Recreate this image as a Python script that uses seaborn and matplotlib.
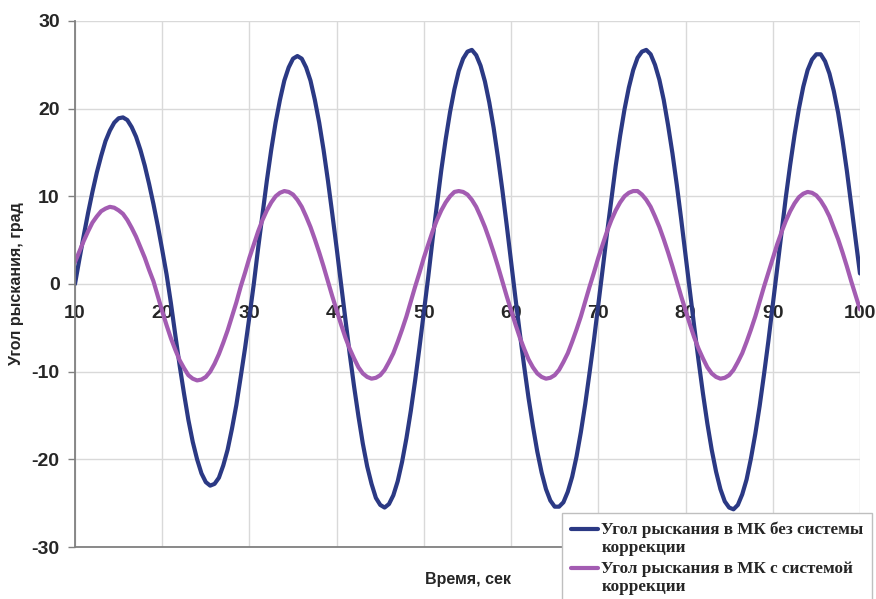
import seaborn as sns
import pandas as pd
import matplotlib.pyplot as plt
from matplotlib.legend_handler import HandlerLine2D

# time axis, seconds (0.5 s step)
time_s = [10 + 0.5 * i for i in range(181)]

# yaw angle without correction, deg
yaw_no_corr = [
    0.0, 2.8, 5.5, 8.1, 10.5, 12.7, 14.6, 16.3, 17.5, 18.4, 18.9, 19.0, 18.7, 17.9,
    16.8, 15.3, 13.5, 11.4, 9.1, 6.6, 3.9, 1.1,
    -2.2, -5.8, -9.3, -12.5, -15.5, -18.0, -20.0, -21.6, -22.6, -23.0,
    -22.8, -22.1, -20.7, -18.9, -16.5, -13.8, -10.6, -7.3, -3.7, 0.0,
    4.1, 8.0, 11.8, 15.3, 18.4, 21.0, 23.2, 24.7, 25.7, 26.0,
    25.7, 24.7, 23.2, 21.0, 18.4, 15.3, 11.8, 8.0, 4.1, 0.0,
    -4.0, -8.0, -11.7, -15.1, -18.2, -20.8, -22.8, -24.4, -25.2, -25.5,
    -25.1, -24.1, -22.5, -20.3, -17.6, -14.5, -11.0, -7.2, -3.2, 0.8,
    5.1, 9.1, 13.0, 16.5, 19.6, 22.2, 24.3, 25.7, 26.5, 26.7,
    26.1, 24.9, 23.1, 20.7, 17.8, 14.4, 10.7, 6.7, 2.5, -1.6,
    -5.6, -9.4, -13.0, -16.2, -19.1, -21.5, -23.4, -24.7, -25.4, -25.4,
    -24.9, -23.7, -22.0, -19.7, -16.9, -13.7, -10.1, -6.4, -2.4, 1.7,
    5.8, 9.7, 13.5, 16.9, 19.9, 22.4, 24.4, 25.8, 26.5, 26.7,
    26.2, 25.0, 23.3, 21.0, 18.1, 14.9, 11.3, 7.4, 3.3, -0.8,
    -4.9, -8.8, -12.5, -15.9, -18.9, -21.4, -23.4, -24.8, -25.5, -25.7,
    -25.2, -24.0, -22.3, -19.9, -17.1, -13.9, -10.3, -6.5, -2.4, 1.7,
    5.9, 9.9, 13.6, 17.0, 20.0, 22.5, 24.4, 25.6, 26.2, 26.2,
    25.4, 24.0, 22.0, 19.5, 16.4, 12.9, 9.0, 5.0, 1.2,
]

# yaw angle with correction system, deg
yaw_corr = [
    2.5, 3.7, 4.9, 6.0, 7.0, 7.7, 8.3, 8.6, 8.8, 8.7,
    8.4, 8.0, 7.3, 6.4, 5.4, 4.2, 3.0, 1.6, 0.3, -1.4,
    -3.1, -4.7, -6.2, -7.5, -8.7, -9.6, -10.4, -10.8, -11.0, -10.9,
    -10.6, -10.0, -9.1, -8.0, -6.7, -5.3, -3.7, -2.1, -0.3, 1.3,
    3.0, 4.5, 6.0, 7.3, 8.4, 9.3, 10.0, 10.4, 10.6, 10.5,
    10.2, 9.6, 8.8, 7.7, 6.5, 5.1, 3.6, 2.0, 0.3, -1.4,
    -3.0, -4.6, -6.1, -7.4, -8.5, -9.5, -10.2, -10.6, -10.8, -10.7,
    -10.4, -9.8, -8.9, -7.9, -6.6, -5.2, -3.7, -2.0, -0.3, 1.3,
    3.0, 4.5, 6.0, 7.3, 8.4, 9.3, 10.0, 10.5, 10.6, 10.5,
    10.2, 9.6, 8.8, 7.7, 6.5, 5.1, 3.6, 2.0, 0.3, -1.4,
    -3.0, -4.6, -6.1, -7.4, -8.6, -9.5, -10.2, -10.6, -10.8, -10.7,
    -10.4, -9.8, -8.9, -7.9, -6.6, -5.2, -3.7, -2.0, -0.3, 1.3,
    3.0, 4.5, 6.0, 7.3, 8.4, 9.3, 10.0, 10.4, 10.6, 10.6,
    10.2, 9.6, 8.8, 7.7, 6.5, 5.1, 3.6, 2.0, 0.3, -1.4,
    -3.0, -4.6, -6.1, -7.4, -8.5, -9.5, -10.2, -10.6, -10.8, -10.7,
    -10.4, -9.8, -8.9, -7.9, -6.6, -5.2, -3.7, -2.0, -0.3, 1.3,
    2.9, 4.5, 5.9, 7.2, 8.3, 9.2, 9.9, 10.3, 10.5, 10.4,
    10.1, 9.5, 8.7, 7.7, 6.4, 5.1, 3.6, 2.0, 0.3, -1.3,
    -2.9,
]

label_no = "Угол рыскания в МК без системы\nкоррекции"
label_yes = "Угол рыскания в МК с системой\nкоррекции"
colors = ["#2b3984", "#a35cb2"]

df = pd.DataFrame({"t": time_s, label_no: yaw_no_corr, label_yes: yaw_corr})
df = df.melt(id_vars="t", var_name="series", value_name="yaw")

sns.set_style("white")
plt.rcParams["font.family"] = ["Liberation Sans", "DejaVu Sans"]
plt.rcParams["axes.unicode_minus"] = False

fig = plt.figure(figsize=(8.76, 5.99), dpi=100)
ax = fig.add_axes([0.0856, 0.0868, 0.8961, 0.8782])

sns.lineplot(data=df, x="t", y="yaw", hue="series", ax=ax, linewidth=3,
             palette=colors, legend=False)

ax.set_xlim(10, 100)
ax.set_ylim(-30, 30)
ax.set_xticks(range(10, 101, 10))
ax.set_yticks(range(-30, 31, 10))
ax.grid(True, color="#d9d9d9", linewidth=1)
ax.set_axisbelow(True)

# x axis sits on the zero line, frame line at the bottom
ax.spines["bottom"].set_position(("data", 0))
ax.spines["bottom"].set_visible(False)
ax.spines["top"].set_visible(False)
ax.spines["right"].set_visible(False)
ax.spines["left"].set_color("#808080")
ax.spines["left"].set_linewidth(1.3)
ax.axhline(-30, color="#808080", linewidth=1.3, clip_on=False)

ax.tick_params(axis="x", length=0, pad=15, labelsize=14)
ax.tick_params(axis="y", length=5, color="#808080", width=1, pad=6, labelsize=14,
               left=True)
for lab in ax.get_xticklabels() + ax.get_yticklabels():
    lab.set_fontweight("bold")

ax.set_xlabel("")
ax.set_ylabel("")
fig.text(0.534, 0.032, "Время, сек", ha="center", va="center",
         fontsize=11.5, fontweight="bold")
fig.text(0.019, 0.526, "Угол рыскания, град", ha="center", va="center",
         rotation=90, fontsize=11.5, fontweight="bold")


class FirstLineHandler(HandlerLine2D):
    # put the legend line next to the first text line
    def create_artists(self, legend, orig_handle, xdescent, ydescent,
                       width, height, fontsize, trans):
        arts = super().create_artists(legend, orig_handle, xdescent, ydescent,
                                      width, height, fontsize, trans)
        for a in arts:
            a.set_ydata([y + 0.6 * fontsize for y in a.get_ydata()])
        return arts


h1, = ax.plot([], [], color=colors[0], linewidth=3)
h2, = ax.plot([], [], color=colors[1], linewidth=3)
leg = fig.legend([h1, h2], [label_no, label_yes], loc="upper left",
                 bbox_to_anchor=(0.6416, 0.1436), borderaxespad=0,
                 frameon=True, fancybox=False,
                 framealpha=1, edgecolor="#bfbfbf", borderpad=0.5,
                 handlelength=1.6, handletextpad=0.2, labelspacing=0.25,
                 handler_map={h1: FirstLineHandler(), h2: FirstLineHandler()},
                 prop={"family": ["Liberation Serif", "DejaVu Serif"],
                       "weight": "bold", "size": 12.3})

fig.savefig("out.png", dpi=100)
